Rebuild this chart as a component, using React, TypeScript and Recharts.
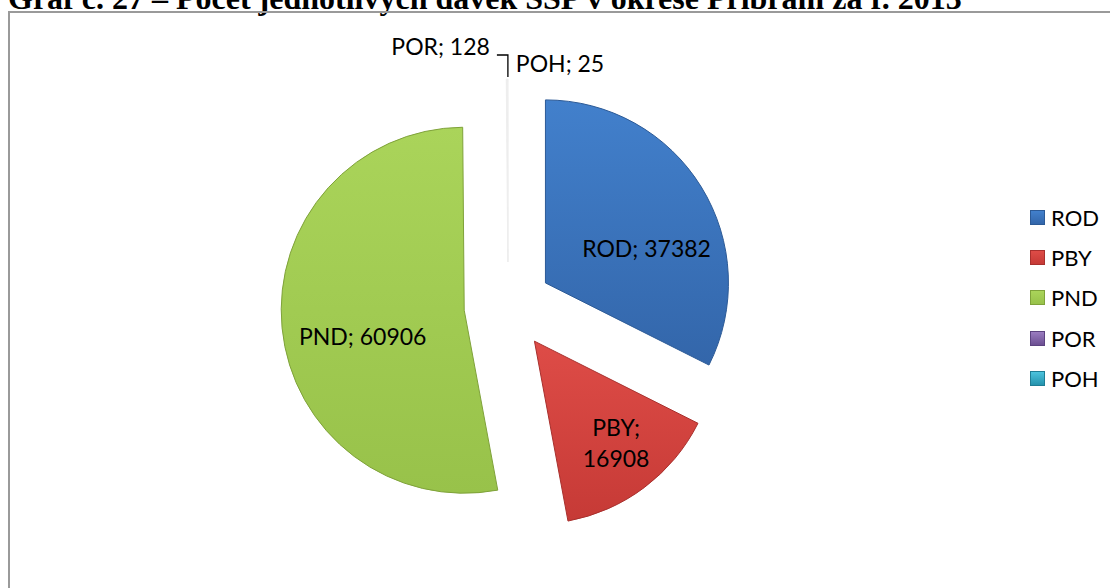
import React from "react";
import { PieChart, Pie, Cell, Sector, Legend } from "recharts";

const categories = ["ROD", "PBY", "PND", "POR", "POH"];
const counts = [37382, 16908, 60906, 128, 25];
const title = "Graf č. 27 – Počet jednotlivých dávek SSP v okrese Příbram za r. 2013";

const data = categories.map((name, i) => ({ name, value: counts[i] }));

// fills for slices and legend swatches
const gradients = [
  { id: "gRod", top: "#4280cc", bottom: "#3366aa", stroke: "#2c5a96" },
  { id: "gPby", top: "#de4c47", bottom: "#c63a36", stroke: "#a8302d" },
  { id: "gPnd", top: "#aad45a", bottom: "#98c24a", stroke: "#7fa23a" },
  { id: "gPor", top: "#9a7cc0", bottom: "#6c4f92", stroke: "#5c4380" },
  { id: "gPoh", top: "#4cc3dd", bottom: "#2593ad", stroke: "#1f7d94" },
];
const sliverFill = "#e4e4e4";

const FONT = "Lato, 'Open Sans', sans-serif";
const EXPLODE = 44;
const RAD = Math.PI / 180;
// label placement inside the big slices (fraction of radius, clockwise shift in degrees)
const labelRadius = [0.58, 0.72, 0.57];
const labelShift = [9, -1, -6];

function ExplodedSector(props: any) {
  const { cx, cy, midAngle } = props;
  const dx = EXPLODE * Math.cos(-midAngle * RAD);
  const dy = EXPLODE * Math.sin(-midAngle * RAD);
  return <Sector {...props} cx={cx + dx} cy={cy + dy} />;
}

function renderLabel(props: any) {
  const { cx, cy, midAngle, outerRadius, index } = props;
  const name = categories[index];
  const value = counts[index];
  const style = { fontFamily: FONT, fontSize: 23, fill: "#000" };
  if (index >= 3) {
    const cos = Math.cos(-midAngle * RAD);
    const sin = Math.sin(-midAngle * RAD);
    const ox = cx + (EXPLODE + outerRadius) * cos;
    const oy = cy + (EXPLODE + outerRadius) * sin;
    if (index === 3) {
      return (
        <g>
          <polyline
            points={`${ox + 1},${oy - 2} ${ox + 1},${oy - 24} ${ox - 10},${oy - 24}`}
            fill="none"
            stroke="#000"
            strokeWidth={1.3}
          />
          <text x={ox - 17} y={oy - 33} textAnchor="end" dominantBaseline="central" {...style}>
            {`${name}; ${value}`}
          </text>
        </g>
      );
    }
    return (
      <text x={ox + 8} y={oy - 16} textAnchor="start" dominantBaseline="central" {...style}>
        {`${name}; ${value}`}
      </text>
    );
  }
  const a = midAngle - labelShift[index];
  const r = EXPLODE + outerRadius * labelRadius[index];
  const x = cx + r * Math.cos(-a * RAD);
  const y = cy + r * Math.sin(-a * RAD);
  if (index === 1) {
    return (
      <text x={x} y={y} textAnchor="middle" {...style}>
        <tspan x={x} dy={-9}>{`${name};`}</tspan>
        <tspan x={x} dy={31}>{`${value}`}</tspan>
      </text>
    );
  }
  return (
    <text x={x} y={y} textAnchor="middle" dominantBaseline="central" {...style}>
      {`${name}; ${value}`}
    </text>
  );
}

function LegendContent() {
  return (
    <div style={{ fontFamily: FONT, fontSize: 22 }}>
      {categories.map((name, i) => (
        <div key={name} style={{ display: "flex", alignItems: "center", height: 40.3 }}>
          <span
            style={{
              display: "inline-block",
              width: 15,
              height: 15,
              marginRight: 6,
              background: `linear-gradient(${gradients[i].top}, ${gradients[i].bottom})`,
              border: `1px solid ${gradients[i].stroke}`,
              boxSizing: "border-box",
            }}
          />
          <span>{name}</span>
        </div>
      ))}
    </div>
  );
}

export default function App() {
  return (
    <div style={{ position: "absolute", left: 0, top: 0, width: 1110, height: 588, overflow: "hidden", background: "#fff" }}>
      <div
        style={{
          position: "absolute",
          left: 8,
          top: -18,
          fontFamily: "'Liberation Serif', serif",
          fontWeight: "bold",
          fontSize: 32,
          lineHeight: "32px",
          whiteSpace: "nowrap",
        }}
      >
        {title}
      </div>
      <div
        style={{
          position: "absolute",
          left: 8,
          top: 11,
          width: 1120,
          height: 600,
          border: "2px solid #9a9a9a",
        }}
      />
      <div style={{ position: "absolute", left: 0, top: 0 }}>
        <PieChart width={1110} height={588} margin={{ top: 0, right: 0, bottom: 0, left: 0 }}>
          <defs>
            {gradients.map((g) => (
              <linearGradient key={g.id} id={g.id} x1="0" y1="0" x2="0" y2="1">
                <stop offset="0%" stopColor={g.top} />
                <stop offset="100%" stopColor={g.bottom} />
              </linearGradient>
            ))}
          </defs>
          <Pie
            data={data}
            dataKey="value"
            nameKey="name"
            cx={508}
            cy={306}
            outerRadius={183}
            startAngle={90}
            endAngle={-270}
            shape={ExplodedSector}
            label={renderLabel}
            labelLine={false}
            isAnimationActive={false}
          >
            {data.map((d, i) => (
              <Cell
                key={d.name}
                fill={i < 3 ? `url(#${gradients[i].id})` : sliverFill}
                stroke={i < 3 ? gradients[i].stroke : "#eeeeee"}
                strokeWidth={1}
              />
            ))}
          </Pie>
          <Legend
            content={<LegendContent />}
            layout="vertical"
            wrapperStyle={{ position: "absolute", left: 1030, top: 197, width: 80 }}
          />
        </PieChart>
      </div>
    </div>
  );
}
